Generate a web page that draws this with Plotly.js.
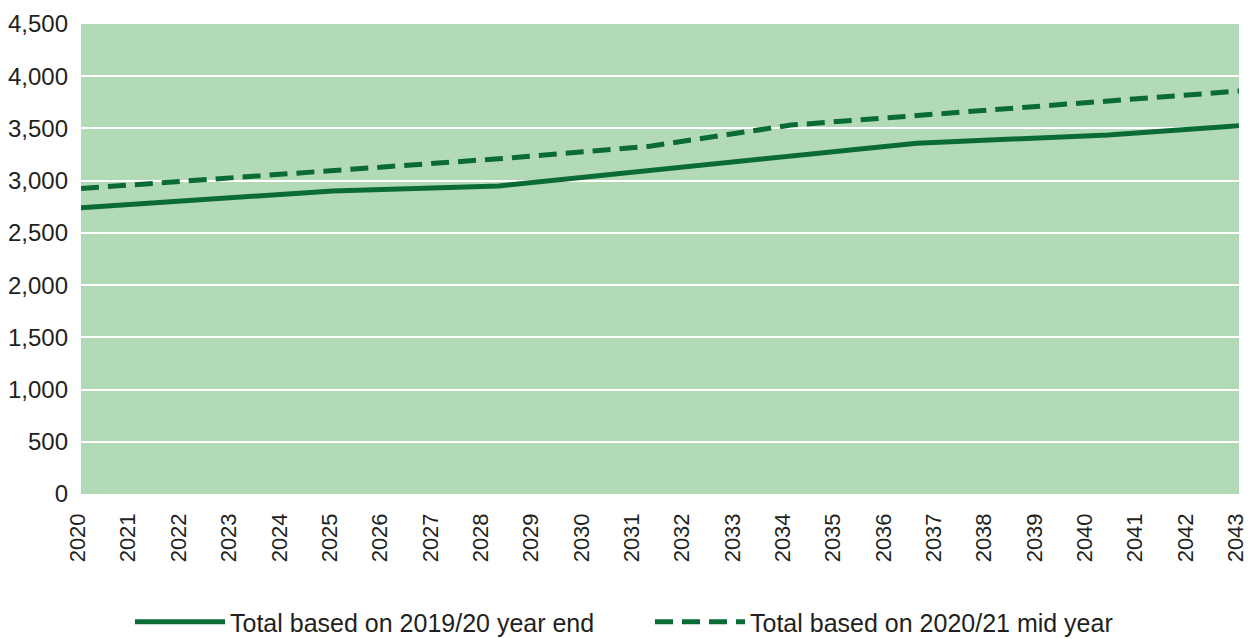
<!DOCTYPE html>
<html>
<head>
<meta charset="utf-8">
<script src="https://cdn.plot.ly/plotly-3.0.1.min.js"></script>
<style>html,body{margin:0;padding:0;background:#fff;}#chart{width:1248px;height:639px;}</style>
</head>
<body>
<div id="chart"></div>
<script>
// Data
const yearTicks = [2020,2021,2022,2023,2024,2025,2026,2027,2028,2029,2030,2031,2032,2033,2034,2035,2036,2037,2038,2039,2040,2041,2042,2043];
const seriesAName = "Total based on 2019/20 year end";
const seriesAX = [2020, 2025, 2028.3, 2036.6, 2040.4, 2043];
const seriesAY = [2740, 2902, 2950, 3358, 3438, 3525];
const seriesBName = "Total based on 2020/21 mid year";
const seriesBX = [2020, 2025, 2028.3, 2031.3, 2034.1, 2043];
const seriesBY = [2925, 3090, 3210, 3330, 3532, 3858];
const yTicks = [0,500,1000,1500,2000,2500,3000,3500,4000,4500];

const lineColor = '#0b6b36';
const textColor = '#231f20';
const fontFam = '"Liberation Sans", Arial, sans-serif';

const traces = [
  {x: seriesAX, y: seriesAY, name: seriesAName, type: 'scatter', mode: 'lines',
   line: {color: lineColor, width: 5}},
  {x: seriesBX, y: seriesBY, name: seriesBName, type: 'scatter', mode: 'lines',
   line: {color: lineColor, width: 5, dash: '18px,9px'}}
];

const layout = {
  width: 1248, height: 639,
  margin: {l: 81, r: 9, t: 24, b: 145},
  paper_bgcolor: '#ffffff',
  plot_bgcolor: '#b3dab6',
  font: {family: fontFam, color: textColor},
  showlegend: true,
  legend: {orientation: 'h', xref: 'container', yref: 'container',
           x: 130/1248, xanchor: 'left', y: 17/639, yanchor: 'middle',
           entrywidth: 415, entrywidthmode: 'pixels',
           font: {size: 25, color: textColor, family: fontFam}, itemwidth: 90,
           traceorder: 'normal', bgcolor: 'rgba(0,0,0,0)'},
  xaxis: {
    type: 'linear', range: [2020, 2043], tickmode: 'array', tickvals: yearTicks,
    ticktext: yearTicks.map(String), tickangle: -90, showgrid: false, zeroline: false,
    showline: false, ticks: '', ticklabelstandoff: 14, ticklabeloverflow: 'allow',
    ticklabelshift: -3, automargin: false,
    tickfont: {size: 22, color: textColor, family: fontFam}, fixedrange: true
  },
  yaxis: {
    range: [0, 4500], tickmode: 'array', tickvals: yTicks,
    ticktext: yTicks.map(v => v.toLocaleString('en-US')),
    showgrid: true, gridcolor: '#ffffff', gridwidth: 2, zeroline: false, showline: false,
    ticks: '', ticklabelstandoff: 12, automargin: false,
    tickfont: {size: 24, color: textColor, family: fontFam}, fixedrange: true
  }
};

Plotly.newPlot('chart', traces, layout, {displayModeBar: false, staticPlot: true});
</script>
</body>
</html>
